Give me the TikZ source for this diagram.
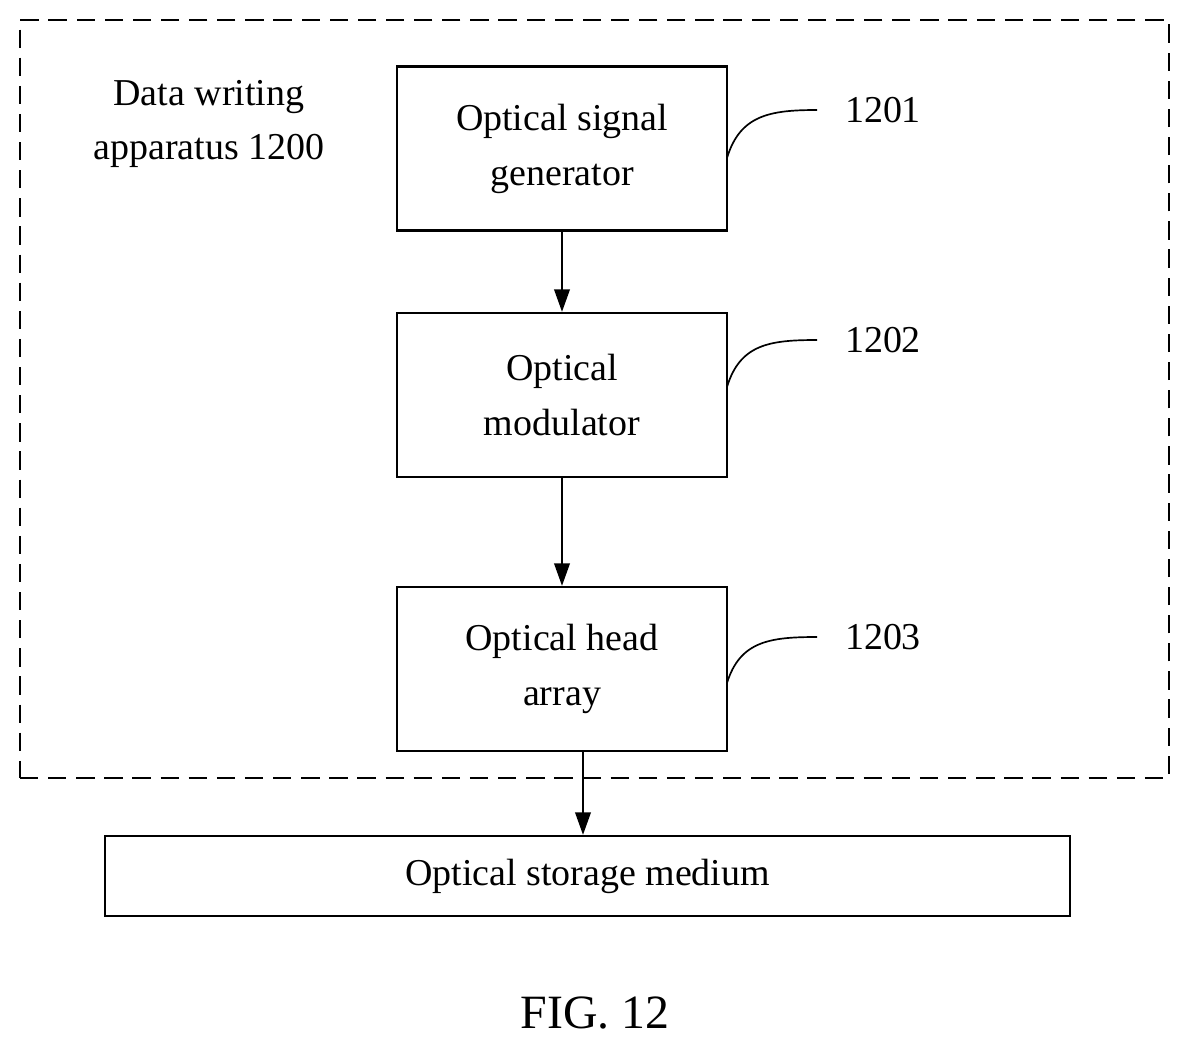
\documentclass[tikz,border=0pt]{standalone}
\usepackage{fontspec}
\setmainfont{Liberation Serif}
\usetikzlibrary{arrows.meta}
\begin{document}
\begin{tikzpicture}[x=0.025cm,y=-0.025cm,
  box/.style={draw,line width=1.6pt,minimum width=330*0.025cm,minimum height=164*0.025cm,align=center,font=\fontsize{27}{39}\selectfont},
  arr/.style={line width=1.6pt,-{Triangle[length=16pt,width=11pt]}},
  lbl/.style={font=\fontsize{27}{32}\selectfont},
  lead/.style={line width=1.2pt}]
\useasboundingbox (0,0) rectangle (1191,1054);
\node[draw,dashed,line width=1.6pt,dash pattern=on 13pt off 7pt,minimum width=1149*0.025cm,minimum height=758*0.025cm] (outer) at (594.5,399) {};
\node[align=center,font=\fontsize{27}{39}\selectfont] (title) at (209,124) {Data writing\\apparatus 1200};
\node[box] (b1) at (562,148.5) {Optical signal\\generator};
\node[box] (b2) at (562,395) {Optical\\modulator};
\node[box] (b3) at (562,669) {Optical head\\array};
\node[draw,line width=1.6pt,minimum width=965*0.025cm,minimum height=80*0.025cm,font=\fontsize{27}{32}\selectfont] (med) at (587.5,876) {Optical storage medium};
\draw[arr] (b1.south) -- (b2.north);
\draw[arr] (b2.south) -- (b3.north);
\coordinate (s3) at (583,751);
\draw[arr] (s3) -- (s3 |- med.north);
\node[lbl] (l1) at (883,110) {1201};
\node[lbl] (l2) at (883,340) {1202};
\node[lbl] (l3) at (883,637) {1203};
\coordinate (c1) at (727,158); \coordinate (e1) at (817,110);
\coordinate (c2) at (727,387); \coordinate (e2) at (817,340);
\coordinate (c3) at (727,683); \coordinate (e3) at (817,637);
\draw[lead] (c1) .. controls (740,115) and (770,110) .. (e1);
\draw[lead] (c2) .. controls (740,344) and (770,340) .. (e2);
\draw[lead] (c3) .. controls (740,641) and (770,637) .. (e3);
\node[font=\fontsize{34}{40}\selectfont] (fig) at (595,1013) {FIG. 12};
\end{tikzpicture}
\end{document}
